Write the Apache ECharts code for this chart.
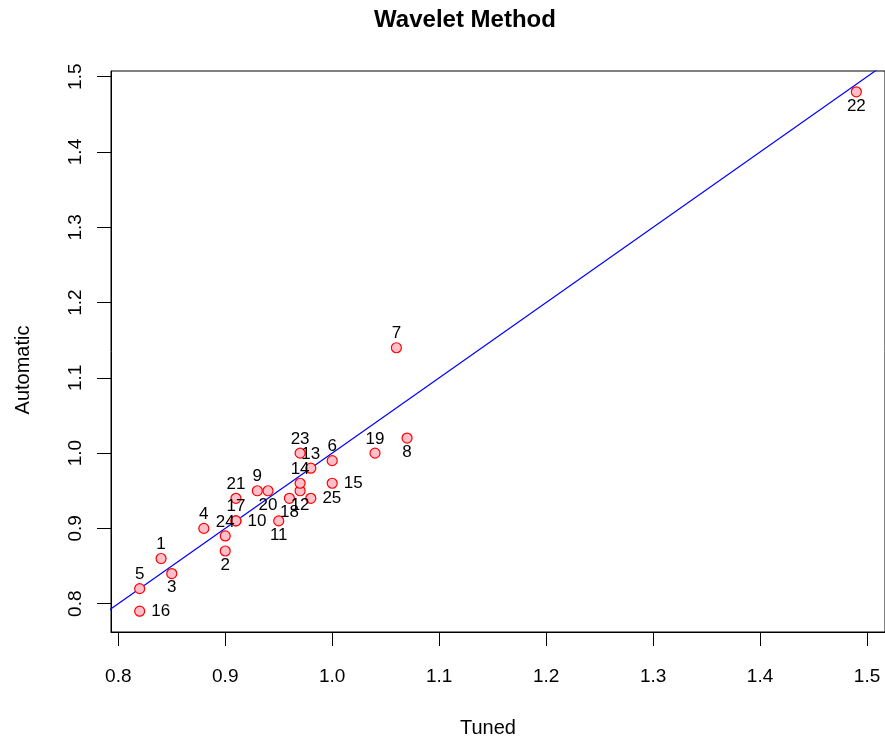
<!DOCTYPE html>
<html>
<head>
<meta charset="utf-8">
<script src="https://cdn.jsdelivr.net/npm/echarts@6/dist/echarts.min.js"></script>
<style>html,body{margin:0;padding:0;background:#fff;}#c{width:885px;height:740px;}</style>
</head>
<body>
<div id="c"></div>
<script>
const ids = ['1','2','3','4','5','6','7','8','9','10','11','12','13','14','15','16','17','18','19','20','21','22','23','24','25'];
const tuned =     [0.84,0.90,0.85,0.88,0.82,1.00,1.06,1.07,0.93,0.91,0.95,0.97,0.98,0.97,1.00,0.82,0.91,0.96,1.04,0.94,0.91,1.49,0.97,0.90,0.98];
const automatic = [0.86,0.87,0.84,0.90,0.82,0.99,1.14,1.02,0.95,0.91,0.91,0.95,0.98,0.96,0.96,0.79,0.91,0.94,1.00,0.95,0.94,1.48,1.00,0.89,0.94];
const tickValues = [0.8,0.9,1.0,1.1,1.2,1.3,1.4,1.5];
const tickLabels = ['0.8','0.9','1.0','1.1','1.2','1.3','1.4','1.5'];
const refLineX = [0.7, 1.6];
const refLineY = [0.7, 1.6];

const labelSide = ['top','bottom','bottom','top','top','top','top','bottom','top','right','bottom','bottom','top','top','right','right','top','bottom','top','bottom','top','bottom','top','top','right'];

const xMin = Math.min(...tuned), xMax = Math.max(...tuned);
const yMin = Math.min(...automatic), yMax = Math.max(...automatic);
const xPad = (xMax - xMin) * 0.04, yPad = (yMax - yMin) * 0.04;

const FONT = 'Liberation Sans';
const pts = tuned.map((x, i) => {
  const side = labelSide[i];
  return {
    value: [x, automatic[i]],
    label: {
      show: true,
      formatter: ids[i],
      position: side,
      distance: side === 'right' ? 6 : 0,
      offset: side === 'right' ? [0, 0] : [-3, 0]
    }
  };
});

const chart = echarts.init(document.getElementById('c'), null, {renderer: 'canvas'});
const tickLabelFmt = v => {
  const idx = tickValues.findIndex(t => Math.abs(t - v) < 1e-9);
  return idx >= 0 ? tickLabels[idx] : '';
};
chart.setOption({
  animation: false,
  backgroundColor: '#fff',
  textStyle: {fontFamily: FONT},
  title: {
    text: 'Wavelet Method',
    left: 460, top: 3, textAlign: 'center',
    textStyle: {fontFamily: FONT, fontWeight: 'bold', fontSize: 24, color: '#000'}
  },
  grid: {left: 111, top: 71, width: 777, height: 561, show: true, borderColor: '#000', borderWidth: 1, containLabel: false},
  xAxis: {
    type: 'value', min: xMin - xPad, max: xMax + xPad,
    axisLine: {show: true, onZero: false, lineStyle: {color: '#000'}},
    axisTick: {show: true, length: 14, customValues: tickValues, lineStyle: {color: '#000'}},
    axisLabel: {customValues: tickValues, formatter: tickLabelFmt, fontSize: 19, color: '#000', margin: 35, fontFamily: FONT},
    splitLine: {show: false}
  },
  yAxis: {
    type: 'value', min: yMin - yPad, max: yMax + yPad,
    axisLine: {show: true, onZero: false, lineStyle: {color: '#000'}},
    axisTick: {show: true, length: 14, customValues: tickValues, lineStyle: {color: '#000'}},
    axisLabel: {customValues: tickValues, formatter: tickLabelFmt, fontSize: 19, color: '#000', margin: 26, rotate: 90, fontFamily: FONT},
    splitLine: {show: false}
  },
  graphic: [
    {type: 'text', x: 488, y: 728, style: {text: 'Tuned', font: '20px "Liberation Sans"', fill: '#000', textAlign: 'center', textVerticalAlign: 'middle'}},
    {type: 'text', x: 23, y: 370, rotation: Math.PI / 2, style: {text: 'Automatic', font: '20px "Liberation Sans"', fill: '#000', textAlign: 'center', textVerticalAlign: 'middle'}}
  ],
  series: [
    {
      type: 'line',
      data: refLineX.map((x, i) => [x, refLineY[i]]),
      showSymbol: false, symbol: 'none', clip: true,
      lineStyle: {color: '#0000ff', width: 1.2},
      z: 2, silent: true
    },
    {
      type: 'scatter',
      data: pts,
      symbol: 'circle', symbolSize: 10,
      itemStyle: {color: '#ffc0cb', borderColor: '#ff0000', borderWidth: 1.2, opacity: 1},
      label: {color: '#000', fontSize: 17, fontFamily: FONT},
      labelLayout: {hideOverlap: false},
      z: 3
    }
  ]
});
</script>
</body>
</html>
